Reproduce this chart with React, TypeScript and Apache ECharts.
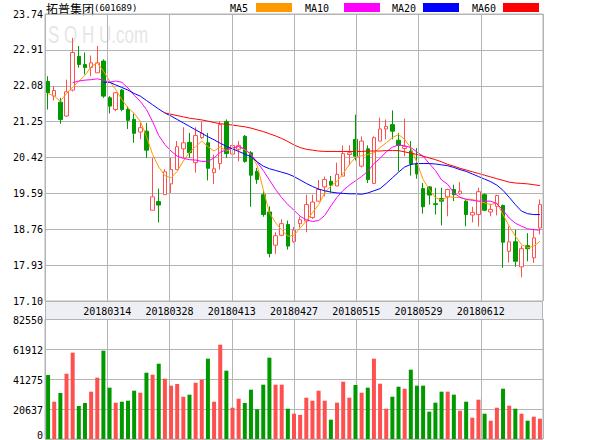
import { useEffect, useRef } from 'react';
import * as echarts from 'echarts';

const dates = ['20180228','20180301','20180302','20180305','20180306','20180307','20180308','20180309','20180312','20180313','20180314','20180315','20180316','20180319','20180320','20180321','20180322','20180323','20180326','20180327','20180328','20180329','20180330','20180402','20180403','20180404','20180409','20180410','20180411','20180412','20180413','20180416','20180417','20180418','20180419','20180420','20180423','20180424','20180425','20180426','20180427','20180502','20180503','20180504','20180507','20180508','20180509','20180510','20180511','20180514','20180515','20180516','20180517','20180518','20180521','20180522','20180523','20180524','20180525','20180528','20180529','20180530','20180531','20180601','20180604','20180605','20180606','20180607','20180608','20180611','20180612','20180613','20180614','20180615','20180619','20180620','20180621','20180622','20180625','20180626','20180627'];

const openP = [22.18,21.84,21.70,21.38,21.98,22.76,22.57,22.50,22.38,22.65,
21.80,21.53,21.98,21.53,21.30,21.01,21.03,19.20,19.40,19.56,
19.81,20.14,20.62,20.77,20.30,20.88,20.76,20.07,20.28,21.25,
20.50,20.61,20.91,20.53,20.10,19.56,19.16,18.39,18.62,18.87,
18.47,18.89,18.95,19.03,19.41,19.74,19.87,19.76,19.99,20.49,
20.84,20.22,20.62,19.82,20.80,21.08,21.18,20.82,20.63,20.57,
20.27,19.70,19.74,19.35,19.47,19.51,19.68,19.58,19.41,19.09,
19.10,19.56,19.16,19.29,19.31,18.25,18.47,17.89,18.38,18.10,
18.79];
const closeP = [21.92,21.97,21.30,21.94,22.85,22.57,22.50,22.61,22.61,21.84,
21.61,21.92,21.53,21.28,20.98,21.11,20.59,19.51,19.32,20.09,
20.14,20.67,20.76,20.53,20.93,20.98,20.17,20.16,21.18,20.51,
20.70,20.70,20.33,20.01,19.91,19.10,18.20,18.61,18.89,18.37,
18.74,18.98,19.33,19.39,19.68,19.91,19.78,20.03,20.51,20.53,
20.45,20.80,19.91,20.88,21.08,21.14,21.03,20.70,20.68,20.27,
20.04,19.28,19.55,19.33,19.41,19.68,19.56,19.64,19.10,19.15,
19.63,19.20,19.22,19.54,18.46,18.47,18.02,18.31,18.31,18.56,
19.33];
const lowP = [21.53,21.74,21.20,21.36,21.95,22.50,22.34,22.30,22.38,21.80,
21.44,21.49,21.49,21.08,20.76,20.84,20.41,19.20,18.92,19.56,
19.60,20.14,20.41,20.41,20.07,20.85,19.89,19.81,20.14,20.41,
20.40,20.33,20.30,19.28,19.81,19.05,18.11,18.19,18.60,18.29,
18.45,18.80,18.69,19.00,19.40,19.52,19.61,19.76,19.99,20.24,
20.35,20.19,19.83,19.82,20.80,20.84,20.84,20.10,20.45,20.00,
19.93,19.12,19.33,19.10,18.85,19.06,19.41,19.55,18.83,18.92,
18.82,19.18,19.06,19.08,17.87,17.99,17.89,17.65,18.02,17.98,
18.64];
const highP = [22.30,22.07,21.80,22.22,23.19,23.00,22.85,22.78,23.00,22.69,
21.84,21.93,22.00,21.60,21.44,21.22,21.22,20.41,19.70,20.15,
20.41,20.80,21.12,20.99,21.12,21.26,20.99,20.49,21.26,21.30,
20.75,20.80,20.94,20.57,20.18,19.64,19.29,18.69,18.99,18.96,
18.81,19.05,19.56,19.56,19.90,19.98,19.99,20.30,20.70,20.70,
21.41,20.91,20.70,20.91,21.34,21.30,21.51,20.99,21.32,20.80,
20.64,19.83,19.76,19.72,19.72,19.70,19.79,19.85,19.43,19.28,
19.72,19.59,19.35,19.56,19.33,18.83,18.75,18.38,18.67,18.77,
19.45];
const volume = [44000,25660,31650,44900,59400,22700,24770,32560,42200,60760,
35300,24980,25660,26350,33230,31850,45600,44250,51800,41500,
36700,37840,29100,30500,38730,40800,55250,25660,64900,47000,
21530,27730,24770,33920,20430,37360,55930,37360,37360,20850,
17400,16600,28400,26350,33230,26350,13300,24980,39420,28400,
37150,31850,35300,55250,38050,20850,29100,35980,34600,47680,
36700,36700,18780,24980,32560,32560,30500,19470,25660,14650,
27040,17400,12590,21530,34600,22900,20850,17400,12590,15340,
13970];

const ma5 = [21.90,21.84,21.72,21.90,22.05,22.18,22.32,22.52,22.61,22.42,
22.19,21.99,21.76,21.57,21.44,21.26,20.91,20.49,20.20,20.00,
19.95,20.10,20.34,20.54,20.67,20.80,20.67,20.57,20.67,20.57,
20.64,20.68,20.60,20.49,20.24,19.68,19.14,18.91,18.74,18.60,
18.62,18.79,18.95,19.14,19.33,19.60,19.76,19.87,20.05,20.26,
20.42,20.46,20.49,20.53,20.65,20.76,20.88,20.95,20.84,20.64,
20.30,19.91,19.68,19.49,19.43,19.51,19.50,19.49,19.46,19.45,
19.41,19.37,19.33,19.37,19.10,18.83,18.60,18.41,18.33,18.37,
18.48];
const ma10 = [null,null,null,null,22.15,22.19,22.21,22.22,22.24,22.21,
22.16,22.19,22.16,22.03,21.86,21.72,21.53,21.25,20.93,20.72,
20.57,20.45,20.40,20.37,20.36,20.33,20.33,20.41,20.54,20.60,
20.64,20.67,20.62,20.49,20.31,20.12,19.90,19.68,19.49,19.33,
19.20,19.06,18.98,18.94,18.96,19.08,19.30,19.50,19.66,19.78,
19.88,19.98,20.10,20.28,20.40,20.55,20.66,20.71,20.69,20.65,
20.55,20.45,20.28,20.12,19.90,19.80,19.60,19.50,19.45,19.43,
19.41,19.41,19.41,19.35,19.20,19.02,18.90,18.83,18.77,18.75,
18.74];
const ma20 = [null,null,null,null,null,null,null,null,null,22.16,
22.16,22.10,22.04,21.98,21.90,21.84,21.74,21.64,21.54,21.45,
21.38,21.30,21.22,21.14,21.06,20.98,20.90,20.83,20.75,20.68,
20.62,20.56,20.50,20.44,20.32,20.22,20.16,20.12,20.08,20.04,
19.98,19.90,19.82,19.75,19.69,19.65,19.62,19.60,19.59,19.58,
19.58,19.57,19.60,19.65,19.70,19.82,19.95,20.08,20.20,20.26,
20.28,20.28,20.28,20.27,20.25,20.23,20.19,20.14,20.10,20.04,
19.98,19.92,19.86,19.78,19.66,19.50,19.33,19.18,19.12,19.10,
19.10];
const ma60 = [null,null,null,null,null,null,null,null,null,null,
null,null,null,null,null,null,null,null,null,21.45,
21.42,21.39,21.36,21.33,21.31,21.29,21.26,21.23,21.20,21.19,
21.17,21.15,21.13,21.10,21.06,21.02,20.97,20.92,20.86,20.79,
20.71,20.65,20.61,20.59,20.57,20.56,20.56,20.56,20.56,20.56,
20.56,20.56,20.57,20.57,20.57,20.58,20.58,20.58,20.55,20.52,
20.49,20.45,20.41,20.37,20.32,20.26,20.22,20.17,20.13,20.09,
20.05,20.01,19.97,19.93,19.89,19.85,19.83,19.82,19.81,19.79,
19.77];

const priceMin = 17.10;
const priceMax = 23.74;
const priceStep = 0.83;
const volMax = 82550;
const volStep = 20637.5;
const slotCount = 81;
const dateStep = 10.125;

const maNames = ['MA5', 'MA10', 'MA20', 'MA60'];
const maColors = ['#ff9900', '#ff00ff', '#0000ff', '#ff0000'];
const maData = [ma5, ma10, ma20, ma60];

const UP = '#ff5050';
const DOWN = '#009900';
const GRID = '#b4b4b4';
const MONO = 'DejaVu Sans Mono';

export default function App() {
  const ref = useRef<HTMLDivElement>(null);
  useEffect(() => {
    const chart = echarts.init(ref.current!, null, { renderer: 'svg' });
    const legendX = [230, 305, 392, 472];
    const rectX = [256, 344, 423, 503];
    const graphics: any[] = [
      {
        type: 'rect', z: 0,
        shape: { x: 45.5, y: 301.5, width: 497, height: 18 },
        style: { fill: '#eeeff5', stroke: GRID, lineWidth: 1 },
      },
      {
        type: 'text', z: 0, x: 48, y: 22, scaleY: 1.4,
        style: { text: 'S O H U.com', fill: '#e6e6e6', font: '17px "Liberation Sans"' },
      },
      {
        type: 'text', x: 46, y: 8,
        style: {
          text: '{a|拓普集团}{b|(601689)}',
          verticalAlign: 'middle',
          rich: {
            a: { fontFamily: 'Noto Sans CJK SC', fontSize: 12, fill: '#000' },
            b: { fontFamily: MONO, fontSize: 9, fill: '#000' },
          },
        },
      },
    ];
    maNames.forEach((n, i) => {
      graphics.push({
        type: 'text', x: legendX[i], y: 8,
        style: { text: n, fill: '#000', font: `10px "${MONO}"`, verticalAlign: 'middle' },
      });
      graphics.push({
        type: 'rect', shape: { x: rectX[i], y: 3, width: 36, height: 9 },
        style: { fill: maColors[i] },
      });
    });

    const labelStyle = { fontFamily: MONO, fontSize: 10, color: '#000' };

    chart.setOption({
      animation: false,
      backgroundColor: '#ffffff',
      graphic: graphics,
      grid: [
        { left: 45, top: 14, width: 498, height: 287, show: true, borderColor: GRID, borderWidth: 1, containLabel: false, outerBoundsMode: 'none' },
        { left: 45, top: 319, width: 498, height: 120, show: true, borderColor: GRID, borderWidth: 1, containLabel: false, outerBoundsMode: 'none' },
      ],
      xAxis: [
        { type: 'category', gridIndex: 0, data: dates, boundaryGap: true, position: 'top', show: false },
        {
          type: 'value', gridIndex: 0, min: 0, max: slotCount, interval: dateStep, position: 'bottom', z: 10,
          axisLine: { show: false }, axisTick: { show: false },
          splitLine: { show: true, lineStyle: { color: GRID, width: 1 } },
          axisLabel: {
            ...labelStyle, margin: 5,
            formatter: (v: number) => (v <= 0 || v >= slotCount ? '' : dates[Math.floor(v + 1e-6)]),
          },
        },
        { type: 'category', gridIndex: 1, data: dates, boundaryGap: true, position: 'top', show: false },
        {
          type: 'value', gridIndex: 1, min: 0, max: slotCount, interval: dateStep, position: 'bottom',
          axisLine: { show: false }, axisTick: { show: false }, axisLabel: { show: false },
          splitLine: { show: true, lineStyle: { color: GRID, width: 1 } },
        },
      ],
      yAxis: [
        {
          type: 'value', gridIndex: 0, min: priceMin, max: priceMax, interval: priceStep,
          axisLine: { show: false }, axisTick: { show: false },
          splitLine: { show: true, lineStyle: { color: GRID, width: 1 } },
          axisLabel: { ...labelStyle, margin: 2, padding: [4, 0, 0, 0], formatter: (v: number) => v.toFixed(2) },
        },
        {
          type: 'value', gridIndex: 1, min: 0, max: volMax, interval: volStep,
          axisLine: { show: false }, axisTick: { show: false },
          splitLine: { show: true, lineStyle: { color: GRID, width: 1 } },
          axisLabel: {
            ...labelStyle, margin: 2, padding: [2, 0, 0, 0],
            formatter: (v: number) => (v === 0 ? '{z|0}' : String(Math.floor(v))),
            rich: { z: { fontFamily: MONO, fontSize: 10, color: '#000', padding: [0, 0, 9, 0] } },
          },
        },
      ],
      series: [
        {
          type: 'candlestick', xAxisIndex: 0, yAxisIndex: 0, barWidth: 4,
          data: dates.map((_, i) => [openP[i], closeP[i], lowP[i], highP[i]]),
          itemStyle: { color: '#ffffff', color0: DOWN, borderColor: UP, borderColor0: DOWN, borderWidth: 1 },
          z: 2,
        },
        ...maNames.map((n, i) => ({
          type: 'line', name: n, xAxisIndex: 0, yAxisIndex: 0, data: maData[i],
          showSymbol: false, symbol: 'none', smooth: false, connectNulls: false,
          lineStyle: { color: maColors[i], width: 1 }, z: 3,
        })),
        {
          type: 'bar', xAxisIndex: 2, yAxisIndex: 1, barWidth: 4,
          data: volume.map((v, i) => ({ value: v, itemStyle: { color: closeP[i] >= openP[i] ? UP : DOWN } })),
        },
      ],
    });
    return () => chart.dispose();
  }, []);
  return <div ref={ref} style={{ width: 600, height: 440, position: 'absolute', left: 0, top: 0 }} />;
}
